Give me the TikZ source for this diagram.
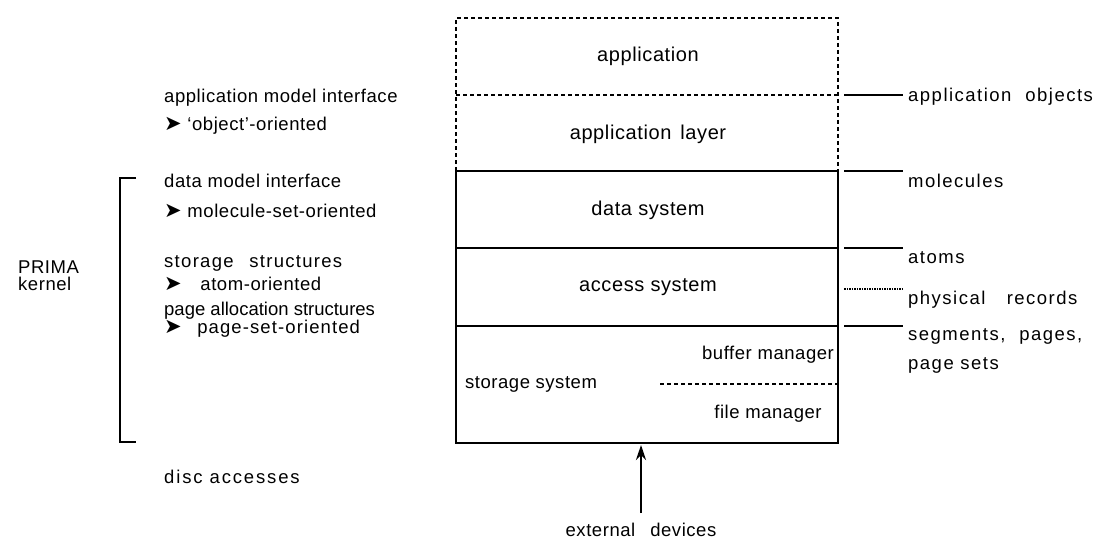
\documentclass[tikz,border=0pt]{standalone}
\usepackage{fontspec}
\setmainfont{Liberation Sans}[LetterSpace=3]
\newfontfamily\symfont{DejaVu Sans}
\usetikzlibrary{arrows.meta}
\newcommand{\pointer}{{\symfont\fontsize{21}{21}\selectfont\char"27A4}}
\tikzset{
  lbl/.style={inner sep=0pt, font=\fontsize{18.5}{21}\selectfont},
  lleft/.style={lbl, anchor=west},
  spaced/.style={font=\fontsize{18.5}{21}\selectfont\addfontfeature{LetterSpace=#1}},
  title/.style={lbl, font=\fontsize{20}{22}\selectfont},
  frame/.style={line width=2.6pt},
  dotframe/.style={line width=2.6pt, dash pattern=on 4pt off 3pt},
  tick/.style={line width=2.6pt},
  finetick/.style={line width=1.3pt, dash pattern=on 1.5pt off 1pt},
}
\begin{document}
\begin{tikzpicture}[x=1pt,y=-1pt]
\useasboundingbox (0,0) rectangle (1105,540);

% layer boundaries of the stack
\coordinate (tl) at (456,18);   \coordinate (tr) at (838,18);
\coordinate (al) at (456,95);   \coordinate (ar) at (838,95);
\coordinate (ml) at (456,171);  \coordinate (mr) at (838,171);
\coordinate (sl) at (456,248);  \coordinate (sr) at (838,248);
\coordinate (pl) at (456,326);  \coordinate (pr) at (838,326);
\coordinate (bl) at (456,443);  \coordinate (br) at (838,443);
\coordinate (fl) at (660,384);  \coordinate (fr) at (838,384);

% dotted upper part (application)
\draw[dotframe] (ml) -- (tl) -- (tr) -- (mr);
\draw[dotframe] (al) -- (ar);
% solid kernel part
\draw[frame] (ml) -- (mr);
\draw[frame] (ml) -- (bl) -- (br) -- (mr);
\draw[frame] (sl) -- (sr);
\draw[frame] (pl) -- (pr);
\draw[dotframe, line width=2pt] (fl) -- (fr);

% layer names
\node[title] (app)  at (648,56)  {application};
\node[title] (appl) at (648,134) {application\hspace{0.45em}layer};
\node[title] (dsys) at (648,210) {data system};
\node[title] (asys) at (648,287) {access system};
\node[lbl] (buf)  at (768,355) {buffer manager};
\node[lbl] (ssys) at (531,384) {storage\hspace{0.3em}system};
\node[lbl] (fm)   at (768,414) {file manager};

% objects crossing the interfaces
\coordinate (o1) at (903,95);
\coordinate (o2) at (903,171);
\coordinate (o3) at (903,248);
\coordinate (o4) at (903,289);
\coordinate (o5) at (903,326);
\coordinate (i4) at (838,289);
\draw[tick] (ar) ++(6,0) -- (o1);
\draw[tick] (mr) ++(6,0) -- (o2);
\draw[tick] (sr) ++(6,0) -- (o3);
\draw[finetick] (i4) ++(6,0) -- (o4);
\draw[tick] (pr) ++(6,0) -- (o5);

\node[lleft, spaced=8] (obj)  at (908,97)  {application\hspace{0.4em} objects};
\node[lleft, spaced=8] (mol)  at (908,181) {molecules};
\node[lleft, spaced=8] (atm)  at (908,258) {atoms};
\node[lleft, spaced=8] (phys) at (908,300) {physical\hspace{0.8em} records};
\node[lleft, spaced=8] (seg)  at (908,336) {segments,\hspace{0.4em} pages,};
\node[lleft, spaced=8] (pset) at (908,365) {page sets};

% interfaces on the left
\node[lleft] (ami) at (164,98)  {application model interface};
\node[lleft] (amo) at (164,126) {\pointer\ `object'-oriented};
\node[lleft] (dmi) at (164,181) {data model interface};
\node[lleft] (dmo) at (164,211) {\pointer\ molecule-set-oriented};
\node[lleft, spaced=7] (sst) at (164,263) {storage\hspace{0.5em} structures};
\node[lleft] (sso) at (164,284) {\pointer\hspace{0.7em} atom-oriented};
\node[lleft, spaced=0] (pas) at (164,311) {page allocation structures};
\node[lleft, spaced=6] (pao) at (164,329) {\pointer\hspace{0.5em} page-set-oriented};
\node[lleft, spaced=10] (dac) at (164,477) {disc accesses};

% kernel bracket
\coordinate (k1) at (136,178);
\coordinate (k2) at (120,178);
\coordinate (k3) at (120,442);
\coordinate (k4) at (136,442);
\draw[tick] (k1) -- (k2) -- (k3) -- (k4);
\node[lleft] (prima) at (18,267) {PRIMA};
\node[lleft] (kern)  at (18,284) {kernel};

% external devices
\node[lbl] (ext) at (641,530) {external\hspace{0.5em} devices};
\coordinate (entry) at (641,445);
\draw[line width=2.6pt, -{Stealth[length=15pt,width=10pt]}] (641,513) -- (entry);
\end{tikzpicture}
\end{document}
